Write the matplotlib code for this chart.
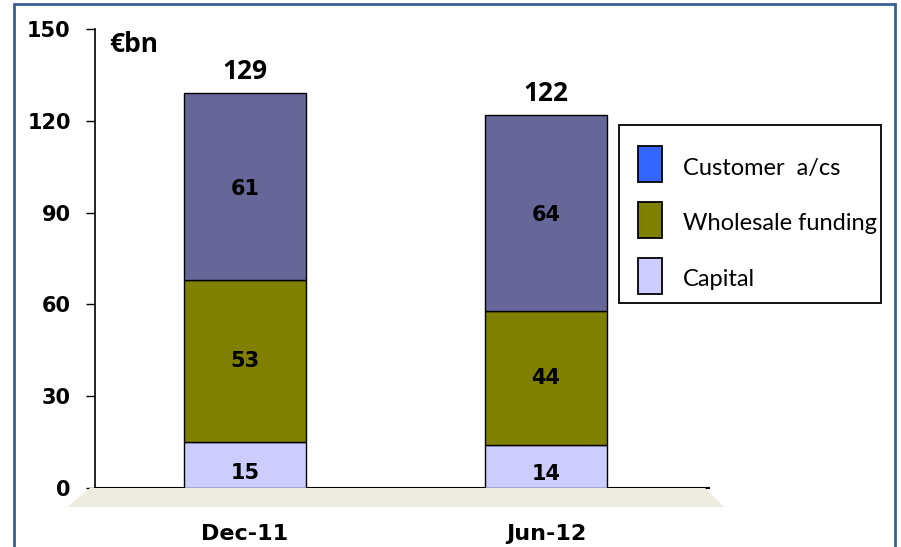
import numpy as np
import matplotlib.pyplot as plt
from matplotlib.patches import Rectangle, Polygon

# data (EUR bn)
periods = ['Dec-11', 'Jun-12']
capital = [15, 14]
wholesale = [53, 44]
customer = [61, 64]
totals = [129, 122]
series_names = ['Customer  a/cs', 'Wholesale funding', 'Capital']
yticks = [0, 30, 60, 90, 120, 150]

c_cust = '#666699'
c_cust_leg = '#3366FF'
c_whole = '#808000'
c_cap = '#CCCCFF'
leg_colors = [c_cust_leg, c_whole, c_cap]

W, H = 901, 547
fig = plt.figure(figsize=(W / 100, H / 100), dpi=100)

def fx(px):
    return px / W

def fy(py):
    return 1 - py / H

# outer blue frame
fig.patches.append(Rectangle((fx(14), fy(560)), fx(895) - fx(14), fy(4) - fy(560),
                             transform=fig.transFigure, fill=False,
                             edgecolor='#3B5E96', linewidth=2))

# grey floor under the bars
fig.patches.append(Polygon([(fx(90), fy(488)), (fx(705), fy(488)),
                            (fx(724), fy(507)), (fx(67), fy(507))],
                           closed=True, transform=fig.transFigure,
                           facecolor='#EEEBE0', edgecolor='none', zorder=0))

ax = fig.add_axes([fx(95), fy(488), fx(710) - fx(95), fy(29) - fy(488)])
ax.patch.set_alpha(0)

x = np.arange(len(periods))
w = 0.405
cap = np.array(capital)
whl = np.array(wholesale)
cus = np.array(customer)

ax.bar(x, cap, w, color=c_cap, edgecolor='black', linewidth=1, zorder=3)
ax.bar(x, whl, w, bottom=cap, color=c_whole, edgecolor='black', linewidth=1, zorder=3)
ax.bar(x, cus, w, bottom=cap + whl, color=c_cust, edgecolor='black', linewidth=1, zorder=3)

lab_font = dict(fontsize=15, fontweight='bold', family='DejaVu Sans', color='black',
                ha='center', va='center', zorder=4)
for i in range(len(x)):
    ax.text(x[i], cap[i] / 2 - 2.5, str(capital[i]), **lab_font)
    ax.text(x[i], cap[i] + whl[i] / 2, str(wholesale[i]), **lab_font)
    ax.text(x[i], cap[i] + whl[i] + cus[i] / 2 - 0.8, str(customer[i]), **lab_font)
    ax.text(x[i], totals[i] + 7, str(totals[i]), fontsize=19, fontweight='bold',
            family='Open Sans', ha='center', va='center')

ax.text(-0.45, 145, '€bn', fontsize=19, fontweight='bold', family='Open Sans',
        ha='left', va='center')

ax.set_xlim(-0.498, 1.545)
ax.set_ylim(0, 150)
ax.set_yticks(yticks)
ax.set_yticklabels([str(t) for t in yticks], fontsize=15, fontweight='bold',
                   family='DejaVu Sans')
ax.tick_params(axis='y', length=6.5, width=1, pad=11, direction='out')
ax.set_xticks(x)
ax.set_xticklabels(periods, fontsize=16, fontweight='bold', family='DejaVu Sans')
ax.tick_params(axis='x', length=0, pad=26)
for s in ['top', 'right']:
    ax.spines[s].set_visible(False)
ax.spines['left'].set_linewidth(1.2)
ax.spines['bottom'].set_linewidth(1.5)
ax.spines['bottom'].set_capstyle('butt')

# legend box drawn by hand (text runs into the right edge like the original)
fig.patches.append(Rectangle((fx(619), fy(303)), fx(881) - fx(619), fy(125) - fy(303),
                             transform=fig.transFigure, facecolor='white',
                             edgecolor='black', linewidth=1.3, zorder=5))
for k, (name, col) in enumerate(zip(series_names, leg_colors)):
    yc = 164 + k * 56
    fig.patches.append(Rectangle((fx(638), fy(yc + 18)), fx(662) - fx(638), fy(yc - 18) - fy(yc + 18),
                                 transform=fig.transFigure, facecolor=col,
                                 edgecolor='black', linewidth=1.3, zorder=6))
    fig.text(fx(683), fy(yc + 4), name, fontsize=17, family='Lato',
             ha='left', va='center', zorder=7)

fig.savefig('out.png', dpi=100)
